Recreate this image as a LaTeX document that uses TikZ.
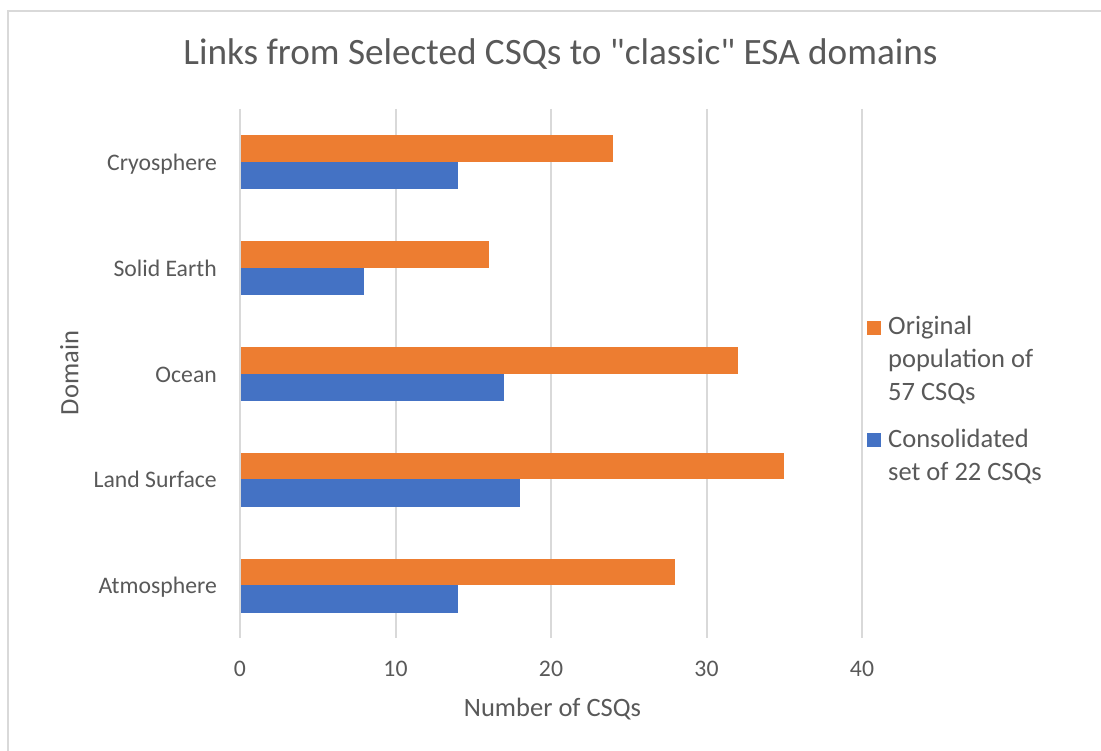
\documentclass[tikz,border=0pt]{standalone}
\usepackage{fontspec}
\setmainfont{Carlito}[Ligatures=TeXOff]
\definecolor{txtc}{HTML}{595959}
\definecolor{gridc}{HTML}{D9D9D9}
\definecolor{orangec}{HTML}{ED7D31}
\definecolor{bluec}{HTML}{4472C4}
\begin{document}
\begin{tikzpicture}[x=1pt,y=-1pt,
  gridline/.style={draw=gridc,line width=2pt},
  framel/.style={draw=gridc,line width=2pt},
  origbar/.style={fill=orangec},
  consbar/.style={fill=bluec},
  catlabel/.style={anchor=base east,text=txtc,inner sep=0pt,font=\fontsize{23.7}{28}\selectfont},
  ticklabel/.style={anchor=base,text=txtc,inner sep=0pt,font=\fontsize{23.7}{28}\selectfont},
  axtitle/.style={anchor=base,text=txtc,inner sep=0pt,font=\fontsize{26.5}{32}\selectfont},
  legtext/.style={anchor=base west,text=txtc,inner sep=0pt,font=\fontsize{26.5}{32}\selectfont},
  charttitle/.style={anchor=base,text=txtc,inner sep=0pt,font=\fontsize{37.2}{44}\selectfont}]
\useasboundingbox (0,0) rectangle (1101,751);
\fill[white] (0,0) rectangle (1101,751);
\draw[framel] (8,752) -- (8,11) -- (1102,11);
% title
\node[charttitle] (title) at (560.5,65) {Links from Selected CSQs to "classic" ESA domains};
% gridlines and tick labels
\foreach \v/\nm in {0/ta,10/tb,20/tc,30/td,40/te}{
  \draw[gridline] ({240+15.55*\v},109) -- ({240+15.55*\v},638);
  \node[ticklabel] (\nm) at ({240+15.55*\v},676.5) {\v};
}
% bars
\foreach \i/\o/\b/\lab/\nm in {0/24/14/Cryosphere/cry,1/16/8/Solid Earth/sol,2/32/17/Ocean/oce,3/35/18/Land Surface/lan,4/28/14/Atmosphere/atm}{
  \pgfmathsetmacro{\c}{162+105.8*\i}
  \fill[origbar] (241,{\c-26.5}) rectangle ({240+15.55*\o},\c);
  \fill[consbar] (241,\c) rectangle ({240+15.55*\b},{\c+27.5});
  \node[catlabel] (\nm) at (217,{\c+8.5}) {\lab};
}
% axis titles
\node[axtitle] (xtitle) at (552.5,716.5) {Number of CSQs};
\node[axtitle,rotate=90] (ytitle) at (78.3,373) {Domain};
% legend
\fill[orangec] (867,321) rectangle (881,335);
\node[legtext] (la) at (888,335) {Original};
\node[legtext] (lb) at (888,368) {population of};
\node[legtext] (lc) at (888,400) {57 CSQs};
\fill[bluec] (867,433) rectangle (881,447);
\node[legtext] (ld) at (888,447.5) {Consolidated};
\node[legtext] (le) at (888,480) {set of 22 CSQs};
\end{tikzpicture}
\end{document}
